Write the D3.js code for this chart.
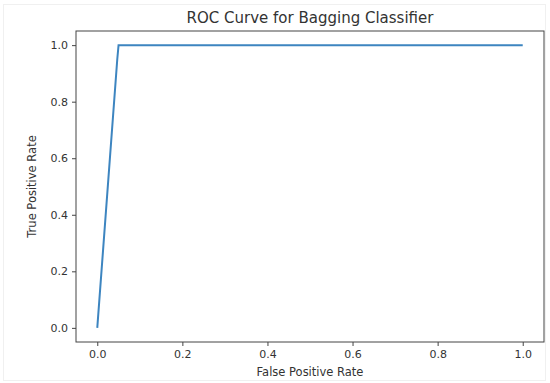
<!DOCTYPE html>
<html>
<head>
<meta charset="utf-8">
<script src="https://cdn.jsdelivr.net/npm/d3@7"></script>
<style>
  body { margin: 0; background: #fff; }
  svg text { font-family: "DejaVu Sans", sans-serif; fill: #333; }
</style>
</head>
<body>
<div id="chart"></div>
<script>
// ROC points
const fpr = [0.0, 0.047, 0.05, 1.0];
const tpr = [0.0, 0.95, 1.0, 1.0];
const xTicks = [0.0, 0.2, 0.4, 0.6, 0.8, 1.0];
const yTicks = [0.0, 0.2, 0.4, 0.6, 0.8, 1.0];

const width = 550;
const height = 383;
const margin = { left: 76, right: 6, top: 31, bottom: 41 };

const svg = d3.select("#chart")
    .append("svg")
    .attr("width", width)
    .attr("height", height);

// faint frame round the picture
svg.append("rect")
    .attr("x", 3.5).attr("y", 4.5)
    .attr("width", 542).attr("height", 376)
    .attr("fill", "none")
    .attr("stroke", "#f0f0f0");

const g = svg.append("g")
    .attr("transform", `translate(${margin.left}, ${margin.top})`);

const plotWidth = width - margin.left - margin.right;
const plotHeight = height - margin.top - margin.bottom;

// matplotlib style 5% padding
const xScale = d3.scaleLinear().domain([-0.05, 1.05]).range([0, plotWidth]);
const yScale = d3.scaleLinear().domain([-0.05, 1.05]).range([plotHeight, 0]);

const xAxis = g.append("g")
    .attr("transform", `translate(0, ${plotHeight})`)
    .call(d3.axisBottom(xScale).tickValues(xTicks).tickFormat(d3.format(".1f")).tickSizeOuter(0).tickSize(4).tickPadding(4));

const yAxis = g.append("g")
    .call(d3.axisLeft(yScale).tickValues(yTicks).tickFormat(d3.format(".1f")).tickSizeOuter(0).tickSize(4).tickPadding(4));

[xAxis, yAxis].forEach(a => {
    a.select(".domain").remove();
    a.selectAll(".tick line").attr("stroke", "#444");
    a.selectAll(".tick text").attr("font-size", "11px").style("fill", "#333");
});

// axes frame
g.append("rect")
    .attr("width", plotWidth)
    .attr("height", plotHeight)
    .attr("fill", "none")
    .attr("stroke", "#444")
    .attr("stroke-width", 1);

const line = d3.line()
    .x((d, i) => xScale(fpr[i]))
    .y((d, i) => yScale(tpr[i]));

g.append("path")
    .datum(fpr)
    .attr("fill", "none")
    .attr("stroke", "#3d85c0")
    .attr("stroke-width", 2)
    .attr("d", line);

svg.append("text")
    .attr("x", margin.left + plotWidth / 2)
    .attr("y", 23)
    .attr("text-anchor", "middle")
    .attr("font-size", "15px")
    .text("ROC Curve for Bagging Classifier");

svg.append("text")
    .attr("x", margin.left + plotWidth / 2)
    .attr("y", 376)
    .attr("text-anchor", "middle")
    .attr("font-size", "11.5px")
    .text("False Positive Rate");

svg.append("text")
    .attr("transform", `translate(36, ${margin.top + plotHeight / 2}) rotate(-90)`)
    .attr("text-anchor", "middle")
    .attr("font-size", "11.5px")
    .text("True Positive Rate");
</script>
</body>
</html>
